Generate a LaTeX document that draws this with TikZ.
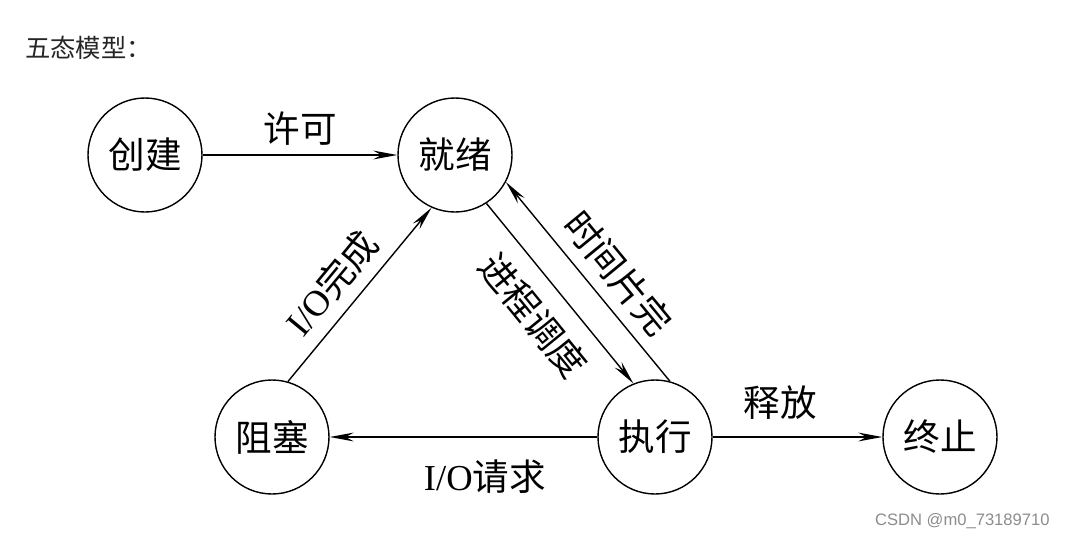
\documentclass[tikz,border=0pt]{standalone}
\usepackage{fontspec}
\setmainfont{Liberation Serif}
\newfontfamily\cjk{Noto Sans CJK SC}
\newfontfamily\wmfont{Liberation Sans}
\usetikzlibrary{arrows.meta,positioning}
\begin{document}
\begin{tikzpicture}[
    state/.style={circle, draw, line width=1pt, minimum size=2.85cm, inner sep=0pt, font=\cjk\fontsize{26}{30}\selectfont},
    lbl/.style={inner sep=2pt, font=\fontsize{26}{30}\selectfont},
    every path/.style={line width=1pt},
    >={Stealth[length=6mm,width=2.2mm,inset=2mm]}
  ]
    \useasboundingbox (0,0) rectangle (26.775,-13.5);
    \node[anchor=west, text=black!85, font=\cjk\fontsize{18}{21}\selectfont] (title) at (0.5,-1.2) {五态模型：};

    \node[state] (chuangjian) at (3.625,-3.875) {创建};
    \node[state, right of=chuangjian, node distance=7.75cm] (jiuxu) {就绪};
    \node[state] (zuse) at (6.8,-10.925) {阻塞};
    \node[state, right of=zuse, node distance=9.575cm] (zhixing) {执行};
    \node[state, right of=zhixing, node distance=7.125cm] (zhongzhi) {终止};

    \draw[->] (chuangjian) -- node[lbl, above=4pt] {\cjk 许可} (jiuxu);
    \draw[->] (zuse.74) -- node[lbl, pos=0.46, sloped, above=6pt] {I/O{\cjk 完成}} (jiuxu.246);
    \draw[->] (jiuxu.-57) -- node[lbl, sloped, below=10pt] {\cjk 进程调度} (zhixing.112);
    \draw[->] (zhixing.75) -- node[lbl, pos=0.45, sloped, above=6pt] {\cjk 时间片完} (jiuxu.-28);
    \draw[->] (zhixing) -- node[lbl, pos=0.42, below=14pt] {I/O{\cjk 请求}} (zuse);
    \draw[->] (zhixing) -- node[lbl, pos=0.4, above=10pt] {\cjk 释放} (zhongzhi);

    \node[anchor=east, text=black!45, font=\wmfont\fontsize{11.8}{14}\selectfont] (mark) at (26.375,-13.04) {CSDN @m0\_73189710};
\end{tikzpicture}
\end{document}
